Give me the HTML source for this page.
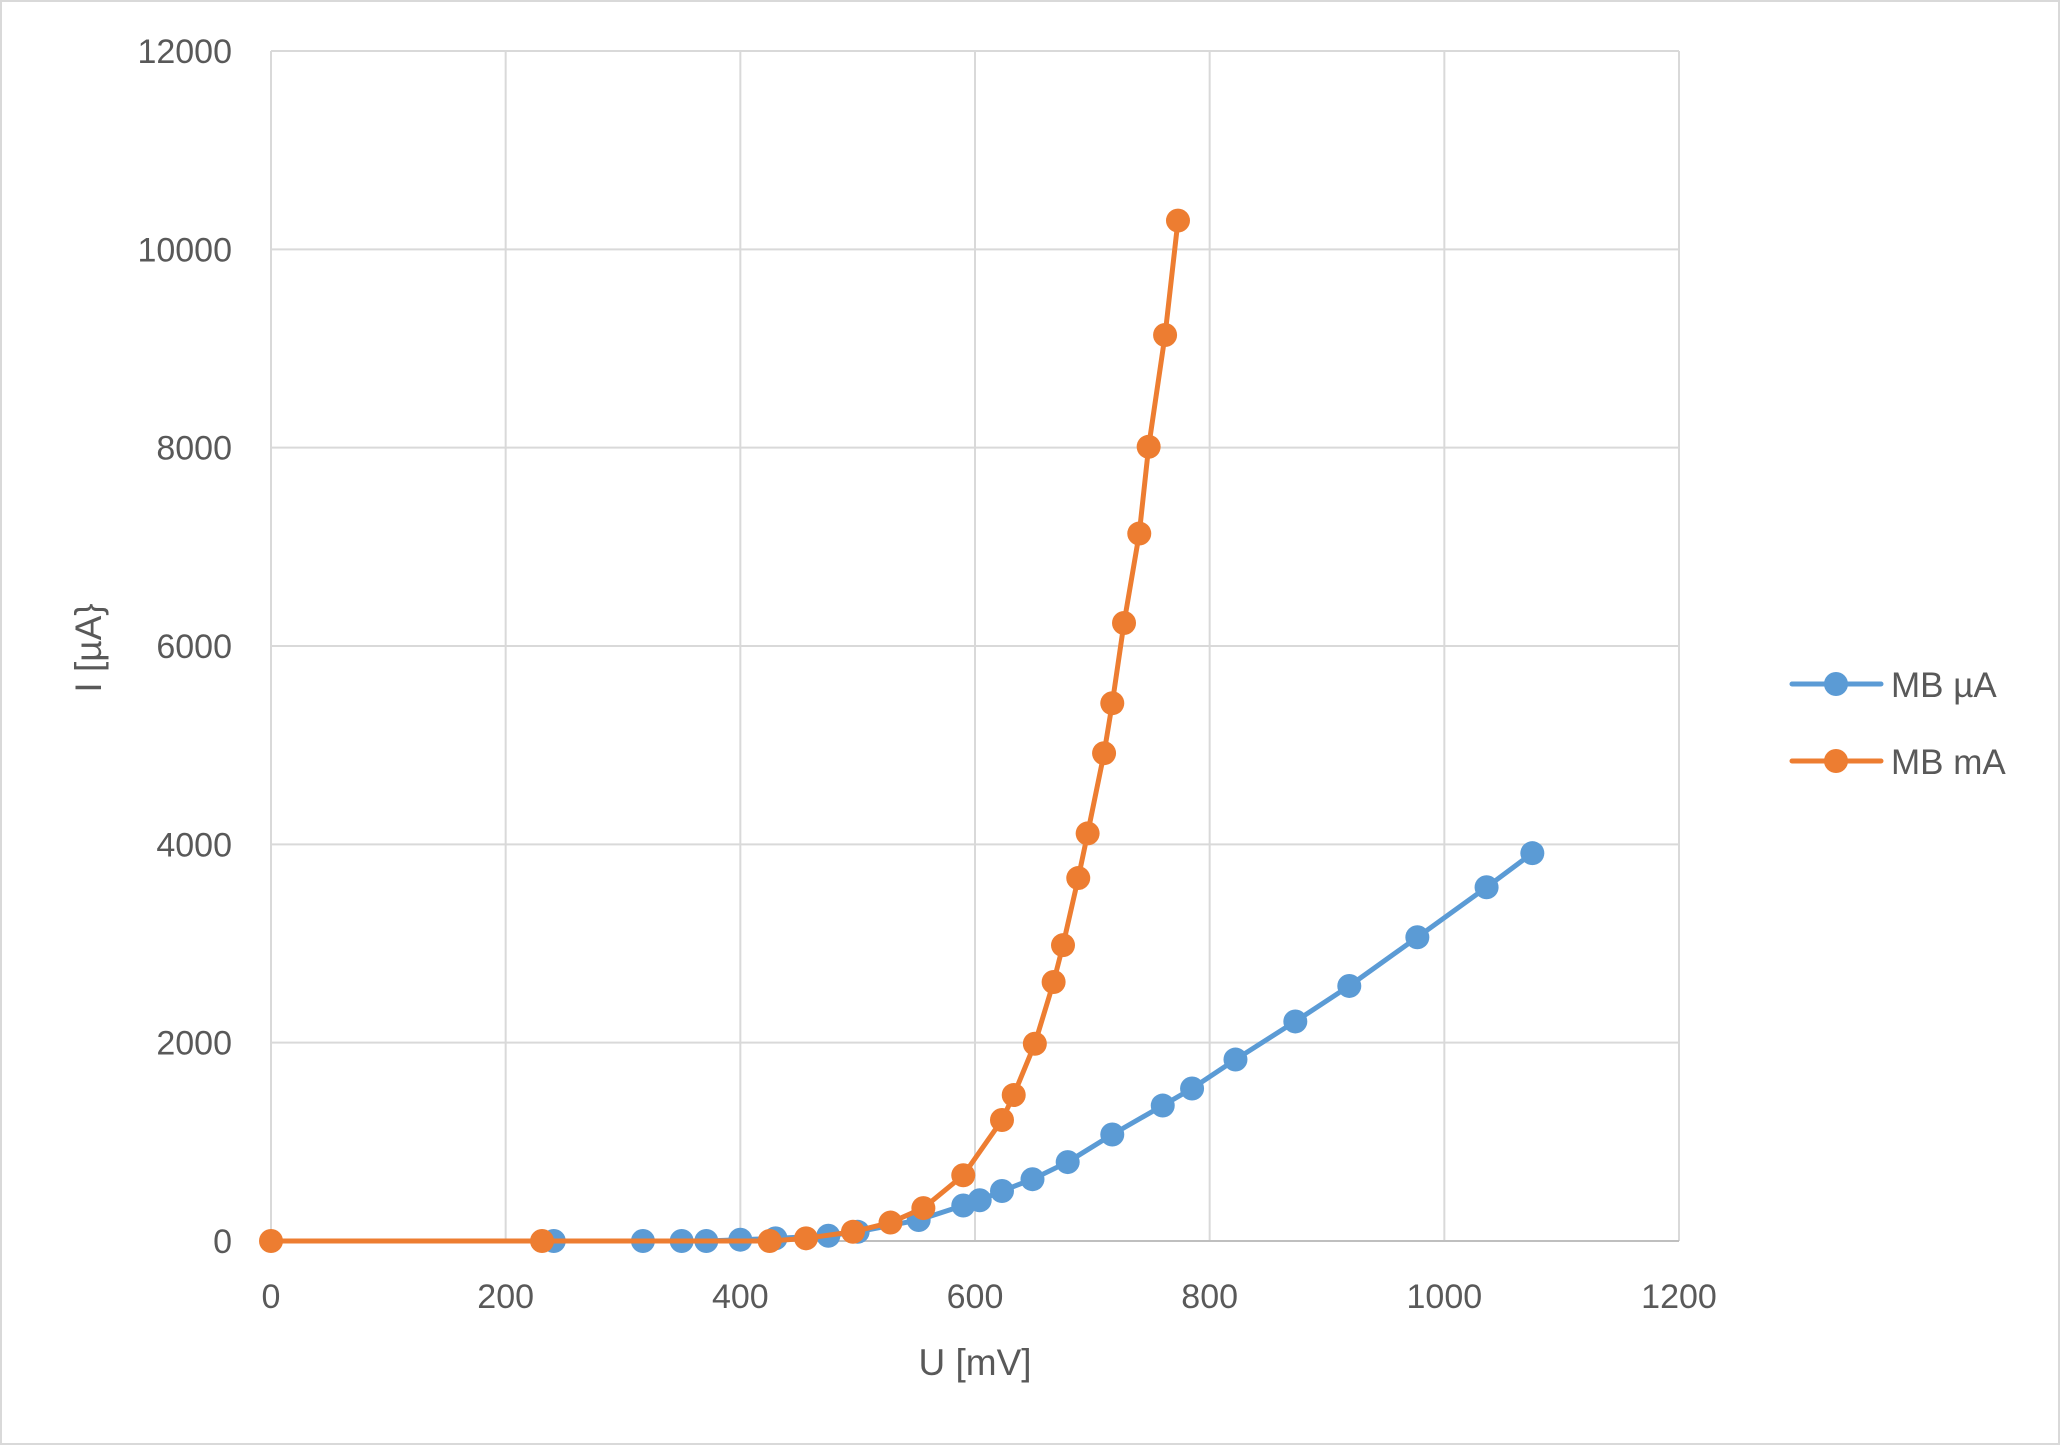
<!DOCTYPE html>
<html><head><meta charset="utf-8"><style>
html,body{margin:0;padding:0;background:#fff;}
svg{display:block;font-family:"Liberation Sans",sans-serif;}
</style></head><body>
<svg id="chart" width="2062" height="1446" viewBox="0 0 2062 1446" xmlns="http://www.w3.org/2000/svg">
<rect x="1" y="1" width="2058" height="1443" fill="#fff" stroke="#d9d9d9" stroke-width="2"/>
<g id="grid"></g>
<g id="axes"></g>
<g id="series"></g>
<text transform="translate(101,648) rotate(-90)" text-anchor="middle" font-size="37" fill="#595959">I [µA}</text>
<text x="975" y="1375" text-anchor="middle" font-size="37" fill="#595959">U [mV]</text>
<g>
<g>
<line x1="1792" y1="684" x2="1881" y2="684" stroke="#5b9bd5" stroke-width="5" stroke-linecap="round"/>
<circle cx="1836" cy="684" r="12" fill="#5b9bd5"/>
<text x="1891" y="697" font-size="35" fill="#595959">MB µA</text>
</g>
<g>
<line x1="1792" y1="761" x2="1881" y2="761" stroke="#ed7d31" stroke-width="5" stroke-linecap="round"/>
<circle cx="1836" cy="761" r="12" fill="#ed7d31"/>
<text x="1891" y="774" font-size="35" fill="#595959">MB mA</text>
</g>
</g>
</svg>
<script>
const xTicks = [0,200,400,600,800,1000,1200];
const yTicks = [0,2000,4000,6000,8000,10000,12000];
const blueU = [241,317,350,371,400,430,475,500,552,590,604,623,649,679,717,760,785,822,873,919,977,1036,1075];
const blueI = [0,0,0,0,13,27,53,93,212,358,411,504,623,796,1074,1366,1538,1830,2214,2572,3063,3567,3911];
const orangeU = [0,231,425,456,496,528,556,590,623,633,651,667,675,688,696,710,717,727,740,748,762,773];
const orangeI = [0,0,0,27,93,186,332,663,1220,1472,1989,2612,2983,3660,4110,4919,5423,6232,7134,8009,9136,10290];

const X0=271,X1=1679,Y0=1241,Y1=51;
const sx=v=>X0+(v-0)/(1200-0)*(X1-X0);
const sy=v=>Y0-(v-0)/(12000-0)*(Y0-Y1);
const NS='http://www.w3.org/2000/svg';
function mk(tag,attrs,parent){const e=document.createElementNS(NS,tag);for(const k in attrs)e.setAttribute(k,attrs[k]);parent.appendChild(e);return e;}
const grid=document.getElementById('grid'),axes=document.getElementById('axes'),series=document.getElementById('series');
xTicks.forEach(t=>{
  const l=mk('line',{x1:sx(t),x2:sx(t),y1:Y1,y2:Y0,stroke:'#d9d9d9','stroke-width':2},grid);
  
  
  const tx=mk('text',{x:sx(t),y:1308,'text-anchor':'middle','font-size':34,fill:'#595959'},axes);
  tx.textContent=t;
  
  
});
yTicks.forEach(t=>{
  const l=mk('line',{x1:X0,x2:X1,y1:sy(t),y2:sy(t),stroke:t===0?'#bfbfbf':'#d9d9d9','stroke-width':2},grid);
  
  
  const tx=mk('text',{x:232,y:sy(t)+12,'text-anchor':'end','font-size':34,fill:'#595959'},axes);
  tx.textContent=t;
  
  
});
function draw(us,is,color,name){
  const g=mk('g',{},series);
  
  
  const pts=us.map((u,i)=>sx(u)+','+sy(is[i])).join(' ');
  const pl=mk('polyline',{points:pts,fill:'none',stroke:color,'stroke-width':5,'stroke-linejoin':'round'},g);
  
  
  us.forEach((u,i)=>{
    const c=mk('circle',{cx:sx(u),cy:sy(is[i]),r:12,fill:color},g);
    
    
  });
}
draw(blueU,blueI,'#5b9bd5','series-mb-ua');
draw(orangeU,orangeI,'#ed7d31','series-mb-ma');
</script>
</body></html>
